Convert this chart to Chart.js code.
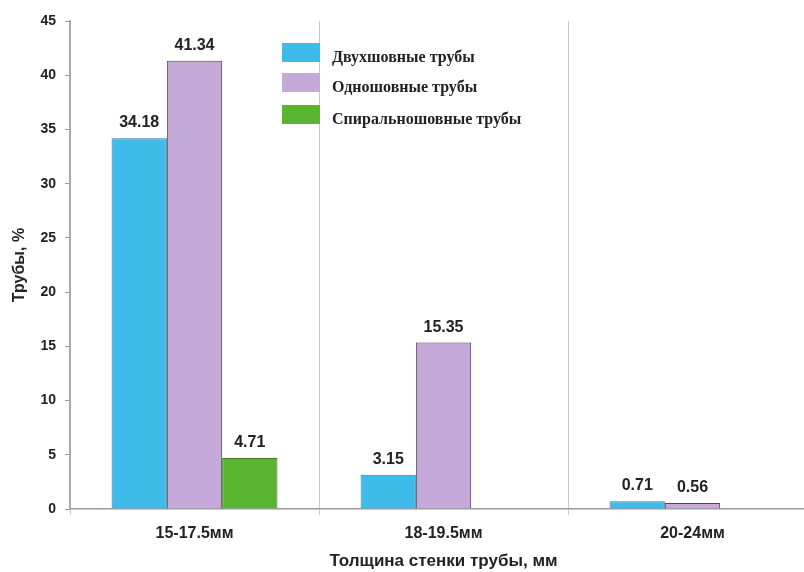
<!DOCTYPE html>
<html>
<head>
<meta charset="utf-8">
<script src="https://cdn.jsdelivr.net/npm/chart.js@4"></script>
<style>
  html, body { margin: 0; padding: 0; background: #fff; overflow: hidden; width: 804px; height: 572px; }
  #wrap { width: 820px; height: 572px; }
</style>
</head>
<body>
<div id="wrap"><canvas id="chart" width="820" height="572"></canvas></div>
<script>
const categories = ['15-17.5мм', '18-19.5мм', '20-24мм'];
const seriesNames = ['Двухшовные трубы', 'Одношовные трубы', 'Спиральношовные трубы'];
const twoSeam = [34.18, 3.15, 0.71];
const oneSeam = [41.34, 15.35, 0.56];
const spiral = [4.71, null, null];
const yTicks = [0, 5, 10, 15, 20, 25, 30, 35, 40, 45];

const fills = ['#3fbbe9', '#c5a9d9', '#5bb430'];
const borders = ['#2b7fa6', '#4a4a4a', '#3a7d1f'];
const sans = '"Liberation Sans", Arial, sans-serif';

// value labels above bars
const valueLabels = {
  id: 'valueLabels',
  afterDatasetsDraw(chart) {
    const ctx = chart.ctx;
    ctx.save();
    ctx.font = 'bold 16px ' + sans;
    ctx.fillStyle = '#222';
    ctx.textAlign = 'center';
    ctx.textBaseline = 'alphabetic';
    chart.data.datasets.forEach((ds, i) => {
      chart.getDatasetMeta(i).data.forEach((bar, j) => {
        const v = ds.data[j];
        if (v == null) return;
        ctx.fillText(v.toFixed(2), bar.x, bar.y - 11);
      });
    });
    ctx.restore();
  }
};

// legend drawn inside the plot
const boxLegend = {
  id: 'boxLegend',
  afterDraw(chart) {
    const ctx = chart.ctx;
    const x = chart.chartArea.left + 212;
    const tops = [43, 73, 105];
    ctx.save();
    ctx.font = 'bold 16px "Liberation Serif", "Times New Roman", serif';
    ctx.textBaseline = 'middle';
    chart.data.datasets.forEach((ds, i) => {
      ctx.fillStyle = ds.backgroundColor;
      ctx.fillRect(x, tops[i], 38, 19);
      ctx.fillStyle = '#222';
      ctx.fillText(ds.label, x + 50, tops[i] + 15);
    });
    ctx.restore();
  }
};

new Chart(document.getElementById('chart'), {
  type: 'bar',
  data: {
    labels: categories,
    datasets: [
      { label: seriesNames[0], data: twoSeam, backgroundColor: fills[0], borderColor: borders[0], borderWidth: 1 },
      { label: seriesNames[1], data: oneSeam, backgroundColor: fills[1], borderColor: borders[1], borderWidth: 1 },
      { label: seriesNames[2], data: spiral, backgroundColor: fills[2], borderColor: borders[2], borderWidth: 1 }
    ]
  },
  plugins: [valueLabels, boxLegend],
  options: {
    responsive: false,
    animation: false,
    layout: { padding: { top: 21, right: 3, left: 0, bottom: 0 } },
    datasets: { bar: { categoryPercentage: 0.666, barPercentage: 1 } },
    plugins: { legend: { display: false }, tooltip: { enabled: false } },
    scales: {
      x: {
        grid: { offset: true, drawOnChartArea: true, color: '#c9c9c9', tickLength: 6 },
        border: { color: '#9a9a9a', width: 1.5 },
        ticks: { color: '#222', font: { family: sans, size: 16, weight: 'bold' }, padding: 9 },
        title: { display: true, text: 'Толщина стенки трубы, мм', color: '#222', font: { family: sans, size: 17, weight: 'bold' }, padding: 0 },
        afterFit(scale) { scale.height = 63; }
      },
      y: {
        min: 0,
        max: 45,
        afterBuildTicks(scale) { scale.ticks = yTicks.map(v => ({ value: v })); },
        grid: { drawOnChartArea: false, color: '#9a9a9a', tickLength: 5 },
        border: { color: '#aaaaaa', width: 2 },
        ticks: { color: '#222', font: { family: sans, size: 14, weight: 'bold' }, padding: 9 },
        title: { display: true, text: 'Трубы, %', color: '#222', font: { family: sans, size: 16, weight: 'bold' }, padding: { top: 10, bottom: 0 } },
        afterFit(scale) { scale.width = 70; }
      }
    }
  }
});
</script>
</body>
</html>
